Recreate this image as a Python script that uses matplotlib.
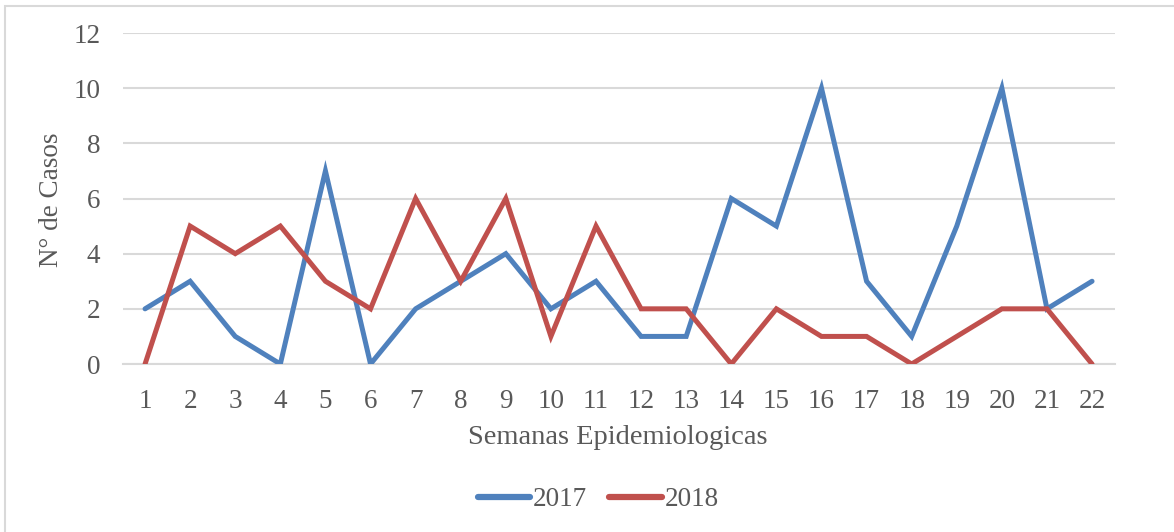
import matplotlib
matplotlib.use("Agg")
import matplotlib.pyplot as plt
from matplotlib.patches import Rectangle

semanas = list(range(1, 23))
casos_2017 = [2, 3, 1, 0, 7, 0, 2, 3, 4, 2, 3, 1, 1, 6, 5, 10, 3, 1, 5, 10, 2, 3]
casos_2018 = [0, 5, 4, 5, 3, 2, 6, 3, 6, 1, 5, 2, 2, 0, 2, 1, 1, 0, 1, 2, 2, 0]
y_ticks = [0, 2, 4, 6, 8, 10, 12]

plt.rcParams['font.family'] = ['Liberation Serif', 'DejaVu Serif']
txt = '#595959'

W, H = 1174, 532
fig = plt.figure(figsize=(W / 100, H / 100), dpi=100)
fig.patch.set_facecolor('white')

# chart frame border
fig.patches.append(Rectangle((5 / W, -0.1), 1.2, 1 - 6 / H + 0.1, transform=fig.transFigure,
                             fill=False, edgecolor='#D9D9D9', linewidth=1.5))

ax = fig.add_axes([122.5 / W, 1 - 364 / H, (1114.6 - 122.5) / W, (364 - 33) / H])
ax.plot(semanas, casos_2017, color='#4F81BD', lw=3.6, label='2017',
        solid_capstyle='round', solid_joinstyle='miter', zorder=3)
ax.plot(semanas, casos_2018, color='#C0504D', lw=3.6, label='2018',
        solid_capstyle='round', solid_joinstyle='miter', zorder=3)

ax.set_xlim(0.5, 22.5)
ax.set_ylim(0, 12)
ax.set_xticks(semanas)
ax.set_yticks(y_ticks)
ax.yaxis.grid(True, color='#D9D9D9', lw=1.5)
ax.set_axisbelow(True)
for s in ax.spines.values():
    s.set_visible(False)
ax.spines['bottom'].set_visible(True)
ax.spines['bottom'].set_color('#D9D9D9')
ax.spines['bottom'].set_linewidth(1.5)
ax.tick_params(length=0, labelsize=19.5, colors=txt)
ax.tick_params(axis='x', pad=18)
ax.tick_params(axis='y', pad=16)
for lab in ax.get_xticklabels() + ax.get_yticklabels():
    lab.set_color(txt)

fig.text(618 / W, 1 - 437 / H, 'Semanas Epidemiologicas', fontsize=20.5, color=txt,
         ha='center', va='center')
fig.text(52 / W, 1 - 200 / H, 'N° de Casos', fontsize=19.5, color=txt,
         ha='center', va='center', rotation=90)

leg = fig.legend(loc='center', bbox_to_anchor=(598 / W, 1 - 500 / H), ncol=2, frameon=False,
                 fontsize=19.5, handlelength=1.95, columnspacing=0.8, handletextpad=0.1)
for t in leg.get_texts():
    t.set_color(txt)
for h in leg.get_lines():
    h.set_linewidth(4.5)
    h.set_solid_capstyle('round')

fig.savefig('out.png', dpi=100)
